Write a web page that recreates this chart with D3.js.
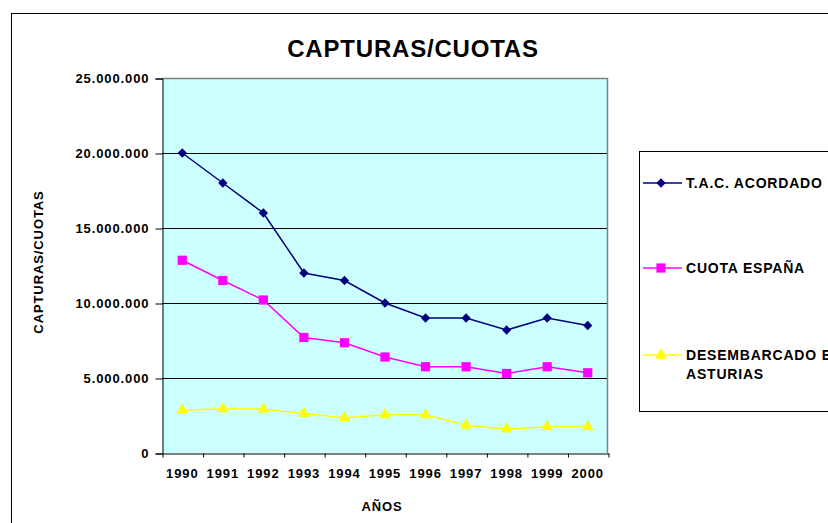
<!DOCTYPE html>
<html>
<head>
<meta charset="utf-8">
<script src="https://cdn.jsdelivr.net/npm/d3@7"></script>
<style>
  body { margin: 0; background: #fff; }
  svg { display: block; font-family: Arial, "Liberation Sans", sans-serif; font-weight: bold; }
</style>
</head>
<body>
<script>
// data
var years = ['1990','1991','1992','1993','1994','1995','1996','1997','1998','1999','2000'];
var tac = [20000000, 18000000, 16000000, 12000000, 11500000, 10000000, 9000000, 9000000, 8200000, 9000000, 8500000];
var cuota = [12850000, 11500000, 10200000, 7700000, 7350000, 6400000, 5750000, 5750000, 5300000, 5750000, 5350000];
var desemb = [2850000, 2950000, 2920000, 2630000, 2350000, 2550000, 2550000, 1850000, 1600000, 1750000, 1750000];
var yTicks = [0, 5000000, 10000000, 15000000, 20000000, 25000000];
var seriesNames = ['T.A.C. ACORDADO', 'CUOTA ESPAÑA', 'DESEMBARCADO EN|ASTURIAS'];

var w = 828, h = 523;
var pLeft = 162, pRight = 608, pTop = 78, pBottom = 453;

var svg = d3.select('body').append('svg')
  .attr('width', w)
  .attr('height', h);

// outer chart frame
svg.append('rect')
  .attr('x', 11.5).attr('y', 13.5)
  .attr('width', 840).attr('height', 530)
  .attr('fill', 'none').attr('stroke', '#000');

// title
svg.append('text')
  .attr('x', 413).attr('y', 57)
  .attr('text-anchor', 'middle')
  .style('font-size', '24px')
  .style('letter-spacing', '0.8px')
  .text('CAPTURAS/CUOTAS');

// SCALES
var x = d3.scaleBand().domain(years).range([pLeft, pRight]);
var xIdx = d3.scaleLinear().domain([0, years.length]).range([pLeft, pRight]);
var y = d3.scaleLinear().domain([0, 25000000]).range([pBottom, pTop]);

var loc = d3.formatLocale({decimal: ',', thousands: '.', grouping: [3], currency: ['', '']});
var fmt = loc.format(',d');

// plot background
svg.append('rect')
  .attr('x', pLeft).attr('y', pTop)
  .attr('width', pRight - pLeft).attr('height', pBottom - pTop)
  .attr('fill', '#CCFFFF');

// gridlines
svg.append('g')
  .selectAll('line')
  .data(yTicks.filter(d => d > 0 && d < 25000000))
  .enter().append('line')
    .attr('x1', pLeft).attr('x2', pRight)
    .attr('y1', d => Math.round(y(d)) + 0.5)
    .attr('y2', d => Math.round(y(d)) + 0.5)
    .attr('stroke', '#000');

// gray top/right border of plot
svg.append('path')
  .attr('d', `M${pLeft},${pTop + 0.5}H${pRight - 0.5}V${pBottom}`)
  .attr('fill', 'none').attr('stroke', '#808080').attr('stroke-width', 1.5);

// AXES
var yAxis = d3.axisLeft(y).tickValues(yTicks).tickFormat(fmt).tickSize(7).tickPadding(6);
var gy = svg.append('g').attr('transform', `translate(${pLeft + 0.5},0.5)`).call(yAxis);
gy.select('.domain').attr('stroke', '#000');
gy.selectAll('text').style('font-size', '13px').style('letter-spacing', '0.9px').attr('fill', '#000');

var gxt = svg.append('g').attr('transform', `translate(0.5,${pBottom + 0.5})`)
  .call(d3.axisBottom(xIdx).tickValues(d3.range(years.length + 1)).tickFormat('').tickSize(4).tickSizeOuter(0));
gxt.select('.domain').attr('stroke', '#000');

var gx = svg.append('g').attr('transform', `translate(0,${pBottom})`)
  .call(d3.axisBottom(x).tickSize(0).tickPadding(16));
gx.select('.domain').remove();
gx.selectAll('text').style('font-size', '13px').style('letter-spacing', '0.9px').attr('fill', '#000');

// axis titles
svg.append('text')
  .attr('transform', `translate(43,262)rotate(-90)`)
  .attr('text-anchor', 'middle')
  .style('font-size', '13px').style('letter-spacing', '0.9px')
  .text('CAPTURAS/CUOTAS');

svg.append('text')
  .attr('x', 382).attr('y', 511)
  .attr('text-anchor', 'middle')
  .style('font-size', '13px').style('letter-spacing', '0.9px')
  .text('AÑOS');

// SERIES
var series = [
  {name: seriesNames[0], values: tac, color: '#000080', symbol: d3.symbolDiamond2, size: 55},
  {name: seriesNames[1], values: cuota, color: '#FF00FF', symbol: d3.symbolSquare, size: 85},
  {name: seriesNames[2], values: desemb, color: '#FFFF00', symbol: d3.symbolTriangle, size: 60}
];

var line = d3.line()
  .x((d, i) => x(years[i]) + x.bandwidth() / 2)
  .y(d => y(d));

series.forEach(s => {
  svg.append('path')
    .datum(s.values)
    .attr('d', line)
    .attr('fill', 'none')
    .attr('stroke', s.color)
    .attr('stroke-width', 1.5);

  svg.append('g')
    .selectAll('path')
    .data(s.values)
    .enter().append('path')
      .attr('d', d3.symbol().type(s.symbol).size(s.size))
      .attr('transform', (d, i) => `translate(${x(years[i]) + x.bandwidth() / 2},${y(d)})`)
      .attr('fill', s.color);
});

// LEGEND
svg.append('rect')
  .attr('x', 639.5).attr('y', 151.5)
  .attr('width', 300).attr('height', 260)
  .attr('fill', '#fff').attr('stroke', '#000');

var legendY = [183, 268, 355];
series.forEach((s, i) => {
  var g = svg.append('g').attr('transform', `translate(0,${legendY[i]})`);
  g.append('line')
    .attr('x1', 643).attr('x2', 682)
    .attr('stroke', s.color).attr('stroke-width', 1.5);
  g.append('path')
    .attr('d', d3.symbol().type(s.symbol).size(s.size))
    .attr('transform', 'translate(661,0)')
    .attr('fill', s.color);
  s.name.split('|').forEach((t, j) => {
    g.append('text')
      .attr('x', 686).attr('y', j * 19)
      .attr('dy', '0.36em')
      .style('font-size', '14px').style('letter-spacing', '0.8px')
      .text(t);
  });
});
</script>
</body>
</html>
